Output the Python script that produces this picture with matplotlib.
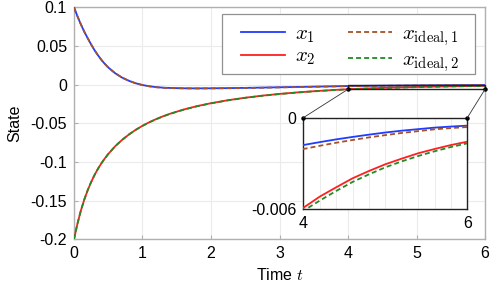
import matplotlib
matplotlib.use("Agg")
import matplotlib.pyplot as plt
from matplotlib.patches import Rectangle, ConnectionPatch

# ---- data ----------------------------------------------------------------
t = [0.0, 0.05, 0.1, 0.15, 0.2, 0.25, 0.3, 0.35, 0.4, 0.45, 0.5, 0.6, 0.7,
     0.8, 0.9, 1.0, 1.1, 1.2, 1.3, 1.4, 1.6, 1.8, 2.0, 2.25, 2.5, 2.75,
     3.0, 3.25, 3.5, 3.75, 4.0, 4.2, 4.4, 4.6, 4.8, 5.0, 5.2, 5.4, 5.6,
     5.8, 6.0]

x1 = [0.1000, 0.0885, 0.0780, 0.0685, 0.0600, 0.0520, 0.0445, 0.0380,
      0.0320, 0.0268, 0.0222, 0.0148, 0.0092, 0.0050, 0.0018, -0.0005,
      -0.0021, -0.0032, -0.0039, -0.0043, -0.0047, -0.0048, -0.0047,
      -0.0045, -0.0042, -0.0038, -0.0034, -0.0030, -0.0026, -0.0022,
      -0.00179, -0.0016, -0.00142, -0.00126, -0.00111, -0.00097, -0.00085,
      -0.00075, -0.00065, -0.00058, -0.00052]

x_ideal1 = [0.1000, 0.0885, 0.0780, 0.0685, 0.0600, 0.0520, 0.0445, 0.0380,
            0.0320, 0.0268, 0.0222, 0.0148, 0.0092, 0.0050, 0.0017, -0.0006,
            -0.0022, -0.0034, -0.0041, -0.0045, -0.0049, -0.0050, -0.0049,
            -0.0047, -0.0044, -0.0040, -0.0036, -0.0032, -0.0028, -0.0024,
            -0.00205, -0.00184, -0.00164, -0.00146, -0.00129, -0.00114, -0.0010,
            -0.00088, -0.00076, -0.00068, -0.00061]

x2 = [-0.2000, -0.1800, -0.1630, -0.1487, -0.1365, -0.1260, -0.1168, -0.1088,
      -0.1017, -0.0954, -0.0897, -0.0798, -0.0716, -0.0646, -0.0585, -0.0532,
      -0.0486, -0.0445, -0.0409, -0.0377, -0.0322, -0.0277, -0.0240, -0.0201,
      -0.0169, -0.0142, -0.0120, -0.0101, -0.0085, -0.0071,
      -0.0059, -0.00517, -0.00456, -0.00397, -0.00349, -0.00305, -0.00268,
      -0.00233, -0.00205, -0.00179, -0.00157]

x_ideal2 = [-0.2000, -0.1800, -0.1630, -0.1487, -0.1365, -0.1260, -0.1168, -0.1088,
            -0.1017, -0.0954, -0.0897, -0.0798, -0.0716, -0.0646, -0.0585, -0.0533,
            -0.0487, -0.0447, -0.0411, -0.0379, -0.0324, -0.0279, -0.0242, -0.0203,
            -0.0171, -0.0144, -0.0122, -0.0103, -0.0087, -0.0073,
            -0.0061, -0.00543, -0.0048, -0.00421, -0.00371, -0.00325, -0.00286,
            -0.00251, -0.0022, -0.00192, -0.00168]

xticks = [0, 1, 2, 3, 4, 5, 6]
yticks = [0.1, 0.05, 0, -0.05, -0.1, -0.15, -0.2]
ytick_labels = ["0.1", "0.05", "0", "-0.05", "-0.1", "-0.15", "-0.2"]
zoom_t = [4, 6]
zoom_y = [0, -0.006]
zoom_ylabels = ["0", "-0.006"]

# ---- style ----------------------------------------------------------------
plt.rcParams["font.family"] = ["Liberation Sans", "DejaVu Sans"]
plt.rcParams["mathtext.fontset"] = "cm"
plt.rcParams["lines.scale_dashes"] = False
FS = 11.5
C1, C2 = "#1f3cff", "#ff1f1f"
CI1, CI2 = "#a5522a", "#238b23"
DASH = (3.6, 2.2)
GRID = "#ebebeb"
SPINE = "#b0b0b0"


def draw_series(ax, lw=1.3):
    ax.plot(t, x1, c=C1, lw=lw, label=r"$x_1$", zorder=3)
    ax.plot(t, x2, c=C2, lw=lw, label=r"$x_2$", zorder=3)
    ax.plot(t, x_ideal1, c=CI1, lw=lw, ls="--", dashes=DASH,
            label=r"$x_{\mathrm{ideal},1}$", zorder=4)
    ax.plot(t, x_ideal2, c=CI2, lw=lw, ls="--", dashes=DASH,
            label=r"$x_{\mathrm{ideal},2}$", zorder=4)


fig = plt.figure(figsize=(4.91, 2.82), dpi=100)
ax = fig.add_axes((0.1507, 0.1514, 0.8371, 0.8227))
draw_series(ax)
ax.set_xlim(0, 6)
ax.set_ylim(-0.2, 0.1)
ax.set_xticks(xticks)
ax.set_xticklabels([str(v) for v in xticks])
ax.set_yticks(yticks)
ax.set_yticklabels(ytick_labels)
ax.tick_params(direction="in", length=3, color=SPINE, labelsize=FS, pad=5)
ax.grid(color=GRID, lw=0.8)
ax.set_axisbelow(True)
for s in ax.spines.values():
    s.set_color(SPINE)
    s.set_linewidth(1.0)
ax.set_xlabel(r"Time $t$", fontsize=FS, labelpad=4)
ax.set_ylabel("State", fontsize=FS, labelpad=6)

# legend: frameless entries + a separate box (the box is wider than the entries)
ax.add_patch(Rectangle((0.360, 0.7125), 0.9757 - 0.360, 0.9698 - 0.7125,
                       transform=ax.transAxes, fc="white", ec="#909090",
                       lw=0.9, zorder=8))
leg = ax.legend(ncol=2, loc="upper left", bbox_to_anchor=(0.3812, 0.9698),
                borderaxespad=0, fontsize=15, handlelength=2.1,
                handletextpad=0.5, columnspacing=1.55, labelspacing=0.08,
                borderpad=0.5, frameon=False)
leg.set_zorder(9)

# zoom box in the main axes
ax.add_patch(Rectangle((zoom_t[0], zoom_y[1]), zoom_t[1] - zoom_t[0],
                       zoom_y[0] - zoom_y[1], fill=False, ec="#222222",
                       lw=1.0, zorder=5, clip_on=False))

# inset
ins = fig.add_axes((0.6178, 0.2578, 0.3340, 0.3248))
draw_series(ins)
ins.set_xlim(zoom_t)
ins.set_ylim(zoom_y[1], zoom_y[0])
ins.set_xticks(zoom_t)
ins.set_xticklabels([str(v) for v in zoom_t])
ins.set_yticks(zoom_y)
ins.set_yticklabels(zoom_ylabels)
ins.set_xticks([4 + 0.2 * k for k in range(1, 10)], minor=True)
ins.tick_params(which="both", length=0, labelsize=FS, pad=5)
ins.grid(which="minor", axis="x", color="#ececec", lw=0.7)
ins.set_axisbelow(True)
for s in ins.spines.values():
    s.set_color("#222222")
    s.set_linewidth(1.0)

# connector lines + corner dots
for tx in zoom_t:
    con = ConnectionPatch(xyA=(tx, zoom_y[1]), coordsA=ax.transData,
                          xyB=(tx, zoom_y[0]), coordsB=ins.transData,
                          color="#333333", lw=0.6, zorder=6)
    fig.add_artist(con)
ax.plot(zoom_t, [zoom_y[1]] * 2, "o", c="k", ms=2.2, clip_on=False, zorder=7)
ins.plot(zoom_t, [zoom_y[0]] * 2, "o", c="k", ms=2.2, clip_on=False, zorder=7)

fig.savefig("out.png", dpi=100)
